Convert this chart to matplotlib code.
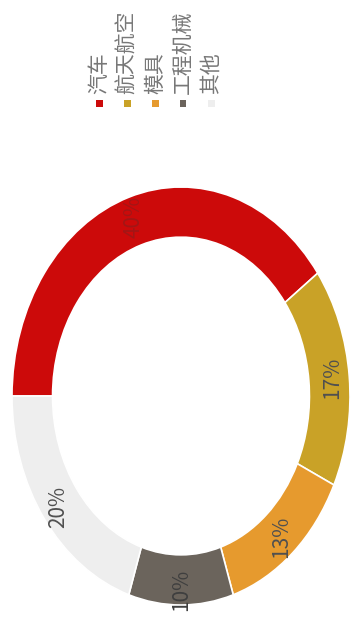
import matplotlib
matplotlib.use("Agg")
import matplotlib.pyplot as plt
from matplotlib.patches import Rectangle
import numpy as np

plt.rcParams['font.family'] = ['Noto Sans CJK SC', 'DejaVu Sans']

categories = ["汽车", "航天航空", "模具", "工程机械", "其他"]
shares = [40, 17, 13, 10, 20]
labels = ["40%", "17%", "13%", "10%", "20%"]
colors = ["#cc0a0a", "#c9a227", "#e69a2e", "#6b645c", "#eeeeee"]
label_colors = ["#a31616", "#505050", "#505050", "#3f3f3f", "#505050"]

fig = plt.figure(figsize=(3.58, 6.25), dpi=100)
fig.patch.set_facecolor("white")

# the original chart is turned a quarter turn, so draw it already rotated
ax = fig.add_axes([12 / 358, 20 / 625, 338 / 358, 418 / 625])
wedges, texts = ax.pie(shares, colors=colors, startangle=180, counterclock=False,
                       radius=1.0, wedgeprops=dict(width=0.24, edgecolor="white", linewidth=1.2))
ax.set_aspect("auto")
ax.set_xlim(-1, 1)
ax.set_ylim(-1, 1)
ax.axis("off")

# percent labels in the middle of the ring
for w, lab, c in zip(wedges, labels, label_colors):
    mid = np.deg2rad((w.theta1 + w.theta2) / 2)
    r = 0.9 if lab != "10%" else 0.93
    ax.text(r * np.cos(mid), r * np.sin(mid), lab, rotation=90,
            ha="center", va="center", fontsize=15, color=c)

# legend: vertical text with small squares under it
x0, dx = 99, 28
for i, (name, c) in enumerate(zip(categories, colors)):
    x = (x0 + i * dx) / 358
    fig.text(x, 1 - 94 / 625, name, rotation=90, ha="center", va="bottom",
             fontsize=15, color="#777777")
    fig.add_artist(Rectangle((x - 3.5 / 358, 1 - 107 / 625), 7 / 358, 7 / 625,
                             transform=fig.transFigure, facecolor=c, edgecolor="none"))

fig.savefig("out.png", dpi=100)
